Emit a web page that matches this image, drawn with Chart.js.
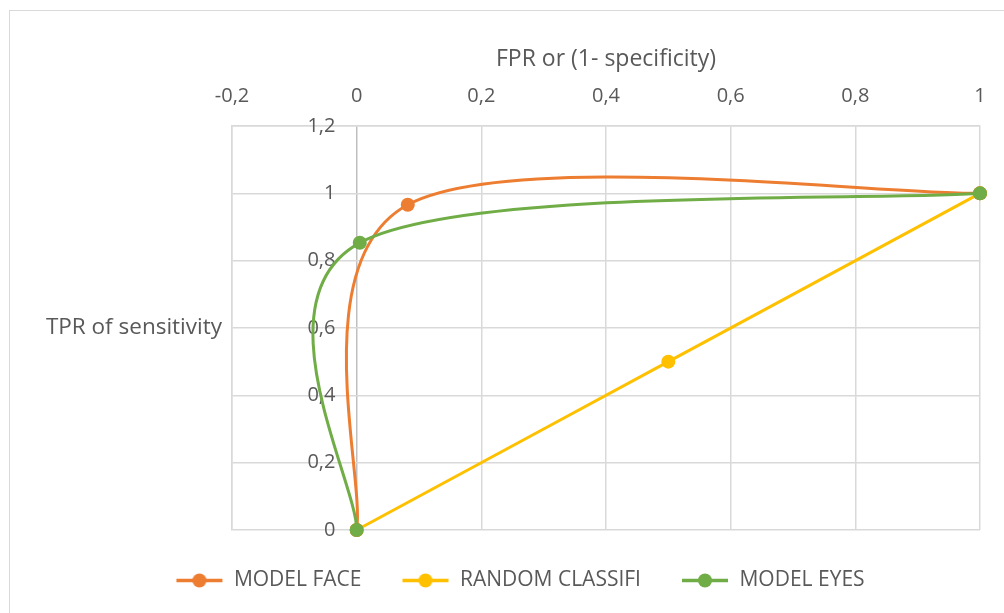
<!DOCTYPE html>
<html>
<head>
<meta charset="utf-8">
<script src="https://cdn.jsdelivr.net/npm/chart.js@4"></script>
<style>
  html, body { margin: 0; padding: 0; background: #fff; overflow: hidden; }
  #frame { position: absolute; left: 9px; top: 10px; width: 2000px; height: 2000px; border: 1px solid #d9d9d9; box-sizing: border-box; }
  #wrap { position: absolute; left: 0; top: 0; width: 1004px; height: 613px; }
</style>
</head>
<body>
<div id="frame"></div>
<div id="wrap"><canvas id="c" width="1004" height="613"></canvas></div>
<script>
// ---- data ----
const seriesNames = ['MODEL FACE', 'RANDOM CLASSIFI', 'MODEL EYES'];
const faceX = [0, 0.082, 1];
const faceY = [0, 0.966, 1];
const randomX = [0, 0.5, 1];
const randomY = [0, 0.5, 1];
const eyesX = [0, 0.005, 1];
const eyesY = [0, 0.853, 1];
const xTicks = [-0.2, 0, 0.2, 0.4, 0.6, 0.8, 1];
const yTicks = [0, 0.2, 0.4, 0.6, 0.8, 1, 1.2];
const xTitle = 'FPR or (1- specificity)';
const yTitle = 'TPR of sensitivity';

const colors = ['#ED7D31', '#FFC000', '#70AD47'];
const textColor = '#595959';
const gridColor = '#d9d9d9';
const FONT = '"Open Sans", sans-serif';
const SMOOTH = 1 / 6; // spreadsheet-style smoothing factor

function pts(xs, ys) { return xs.map((x, i) => ({ x: x, y: ys[i] })); }
function fmt(v) { return String(Math.round(v * 10) / 10).replace('.', ','); }

function legendIcon(color) {
  const c = document.createElement('canvas');
  c.width = 48; c.height = 15;
  const g = c.getContext('2d');
  g.strokeStyle = color; g.lineWidth = 3.5;
  g.beginPath(); g.moveTo(1, 7.5); g.lineTo(47, 7.5); g.stroke();
  g.fillStyle = color;
  g.beginPath(); g.arc(24, 7.5, 7, 0, Math.PI * 2); g.fill();
  return c;
}

// Catmull-Rom style control points on the library's own point elements
const smoothPlugin = {
  id: 'smoothLine',
  beforeDatasetDraw(chart, args) {
    const line = args.meta.dataset;
    if (!line || !line.points) return;
    const p = line.points;
    const n = p.length;
    for (let i = 0; i < n; i++) {
      const prev = p[Math.max(i - 1, 0)];
      const next = p[Math.min(i + 1, n - 1)];
      const dx = (next.x - prev.x) * SMOOTH;
      const dy = (next.y - prev.y) * SMOOTH;
      p[i].cp1x = p[i].x - dx; p[i].cp1y = p[i].y - dy;
      p[i].cp2x = p[i].x + dx; p[i].cp2y = p[i].y + dy;
    }
    line._pointsUpdated = true;
    line._path = undefined;
  }
};

const yTitlePlugin = {
  id: 'yTitle',
  afterDraw(chart) {
    const ctx = chart.ctx, a = chart.chartArea;
    ctx.save();
    ctx.font = '22.5px ' + FONT;
    ctx.fillStyle = textColor;
    ctx.textAlign = 'right';
    ctx.textBaseline = 'middle';
    ctx.fillText(yTitle, a.left - 10, (a.top + a.bottom) / 2);
    ctx.restore();
  }
};

const datasets = [pts(faceX, faceY), pts(randomX, randomY), pts(eyesX, eyesY)].map((d, i) => ({
  label: seriesNames[i],
  data: d,
  showLine: true,
  tension: 0.4,
  borderColor: colors[i],
  backgroundColor: colors[i],
  borderWidth: 3,
  pointRadius: 7,
  pointHoverRadius: 7,
  pointBorderWidth: 0,
  pointStyle: 'circle',
  clip: false
}));
datasets[0].order = 2; datasets[1].order = 3; datasets[2].order = 1;

new Chart(document.getElementById('c'), {
  type: 'scatter',
  data: { datasets: datasets },
  options: {
    responsive: false,
    animation: false,
    events: [],
    layout: { padding: { left: 60, right: 24, top: 0, bottom: 12 } },
    plugins: {
      tooltip: { enabled: false },
      legend: {
        position: 'bottom',
        labels: {
          usePointStyle: true,
          pointStyleWidth: 48,
          padding: 40,
          color: textColor,
          font: { family: FONT, size: 21 },
          generateLabels(chart) {
            return chart.data.datasets.map((ds, i) => ({
              text: ds.label,
              fillStyle: colors[i],
              strokeStyle: colors[i],
              lineWidth: 0,
              pointStyle: legendIcon(colors[i]),
              hidden: false,
              datasetIndex: i,
              fontColor: textColor
            }));
          }
        }
      }
    },
    scales: {
      x: {
        type: 'linear',
        position: 'top',
        min: -0.2, max: 1,
        afterBuildTicks(s) { s.ticks = xTicks.map(v => ({ value: v })); },
        afterFit(s) { s.height = 126; },
        ticks: { color: textColor, font: { family: FONT, size: 20 }, padding: 18, callback: v => fmt(v) },
        grid: {
          drawTicks: false,
          color: ctx => (ctx.tick && ctx.tick.value === 0 ? '#bfbfbf' : gridColor),
          lineWidth: 1.5
        },
        border: { color: gridColor, width: 1.5 },
        title: { display: true, text: xTitle, color: textColor, font: { family: FONT, size: 23 }, padding: { top: 46, bottom: 0 } }
      },
      y: {
        type: 'linear',
        position: 'left',
        min: 0, max: 1.2,
        afterBuildTicks(s) { s.ticks = yTicks.map(v => ({ value: v })); },
        afterFit(s) { s.width = 172; },
        ticks: { display: false },
        grid: { drawTicks: false, color: gridColor, lineWidth: 1.5 },
        border: { color: gridColor, width: 1.5 }
      },
      y2: {
        type: 'linear',
        axis: 'y',
        position: { x: -0.034 },
        min: 0, max: 1.2,
        afterBuildTicks(s) { s.ticks = yTicks.map(v => ({ value: v })); },
        ticks: { color: textColor, font: { family: FONT, size: 20 }, padding: 0, callback: v => fmt(v) },
        grid: { display: false, drawTicks: false },
        border: { display: false }
      }
    }
  },
  plugins: [smoothPlugin, yTitlePlugin]
});
</script>
</body>
</html>
